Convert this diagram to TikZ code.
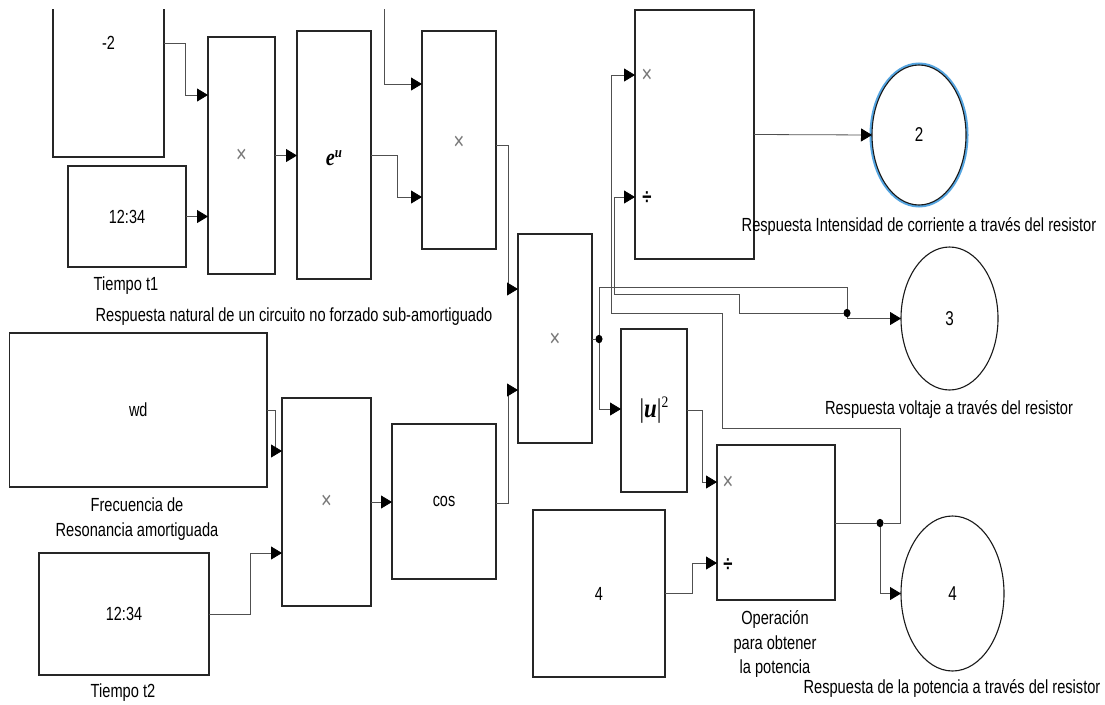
\documentclass[tikz,border=0pt]{standalone}
\usepackage{fontspec}
\setmainfont{Liberation Sans}[FakeStretch=0.77]
\newfontfamily\blkfont{Liberation Sans}[FakeStretch=0.76]
\newfontfamily\serifm{Liberation Serif}[FakeStretch=0.85]
\usetikzlibrary{arrows.meta,shadows,shapes.geometric}
\definecolor{wirec}{RGB}{80,80,80}
\definecolor{glow}{RGB}{85,165,225}
\definecolor{xgray}{RGB}{120,120,120}
\tikzset{
  blk/.style={draw=black!85, line width=1.2pt, fill=white, inner sep=0pt, outer sep=0pt,
    font=\blkfont\fontsize{19}{22}\selectfont,
    drop shadow={shadow xshift=1.3pt, shadow yshift=-1.3pt, opacity=0.4}},
  hiddenblk/.style={inner sep=0pt, outer sep=0pt, font=\blkfont\fontsize{19}{22}\selectfont},
  blkline/.style={draw=black!85, line width=1.2pt},
  port/.style={ellipse, draw=black!90, line width=1.1pt, fill=white, inner sep=0pt, outer sep=0pt,
    font=\blkfont\fontsize{20}{22}\selectfont},
  wire/.style={draw=wirec, line width=0.8pt},
  sig/.style={wire, -{Triangle[length=11pt,width=13pt,color=black]}},
  jdot/.style={ellipse, fill=black, draw=none, minimum width=7pt, minimum height=8.5pt, inner sep=0pt, outer sep=0pt},
  txt/.style={inner sep=0pt, align=center},
  xl/.style={text=xgray, inner sep=0pt, font=\blkfont\fontsize{24}{24}\selectfont},
  dl/.style={inner sep=0pt, font=\blkfont\fontsize{22}{22}\selectfont\bfseries},
}
\begin{document}
\begin{tikzpicture}[x=1pt, y=-1pt, font=\fontsize{19}{24.5}\selectfont]
\useasboundingbox (0,0) rectangle (1105,704);
\fill[white] (0,0) rectangle (1105,704);

% ---- blocks ----
\node[hiddenblk, minimum width=111pt, minimum height=228pt] (c2) at (108.5,43) {-2};
\draw[blkline] (c2.west |- 0,9) -- (c2.south west) -- (c2.south east) -- (c2.east |- 0,9);
\node[blk, minimum width=118pt, minimum height=101pt] (t1) at (127,216.5) {12:34};
\node[blk, minimum width=67pt, minimum height=237pt] (p1) at (241.5,155.5) {};
\node[xl] (p1x) at (p1.center) {×};
\node[blk, minimum width=74pt, minimum height=248pt] (eu) at (334,155) {};
\node[inner sep=0pt] (eut) at (334,158)
  {\serifm\fontsize{24}{24}\selectfont\bfseries\itshape e\raisebox{8pt}{\fontsize{15}{15}\selectfont u}};
\node[blk, minimum width=74pt, minimum height=218pt] (p2) at (459,140) {};
\node[xl] (p2x) at (459,143) {×};
\node[blk, minimum width=74pt, minimum height=209pt] (p3) at (555,338.5) {};
\node[xl] (p3x) at (555,340) {×};
\node[blk, minimum width=119pt, minimum height=249pt] (dv) at (694.5,134.5) {};
\node[xl] (dvx) at (647,76) {×};
\node[dl] (dvd) at (647,198) {÷};
\node[blk, minimum width=257.5pt, minimum height=154pt] (wd) at (138.25,410) {wd};
\node[blk, minimum width=170pt, minimum height=122pt] (t2) at (124,614) {12:34};
\node[blk, minimum width=89pt, minimum height=208pt] (p5) at (326.5,502) {};
\node[xl] (p5x) at (p5.center) {×};
\node[blk, minimum width=104pt, minimum height=155pt] (cs) at (444,501.5) {cos};
\node[blk, minimum width=66pt, minimum height=163pt] (sq) at (654,410.5) {};
\node[inner sep=0pt] (sqt) at (654,410)
  {\serifm\fontsize{27}{27}\selectfont |\textbf{\textit{u}}|\raisebox{10pt}{\fontsize{16}{16}\selectfont 2}};
\node[blk, minimum width=132pt, minimum height=167pt] (k4) at (599,593.5) {4};
\node[blk, minimum width=118pt, minimum height=155pt] (pw) at (776,522.5) {};
\node[xl] (pwx) at (728,483) {×};
\node[dl] (pwd) at (728,565) {÷};

% ---- outports ----
\node[port, minimum width=94pt, minimum height=140pt, preaction={draw=glow, line width=5pt}] (o2) at (919,135) {2};
\node[port, minimum width=97pt, minimum height=143pt] (o3) at (949.5,318.5) {3};
\node[port, minimum width=103pt, minimum height=155pt] (o4) at (952.5,593.5) {4};

% ---- labels ----
\node[txt] (lt1) at (126,286) {Tiempo t1};
\node[txt] (lnat) at (294,317) {Respuesta natural de un circuito no forzado sub-amortiguado};
\node[txt] (lwd) at (137,519) {Frecuencia de\\Resonancia amortiguada};
\node[txt] (lt2) at (123,693) {Tiempo t2};
\node[txt] (lo2) at (919,226) {Respuesta Intensidad de corriente a través del resistor};
\node[txt] (lo3) at (949,409) {Respuesta voltaje a través del resistor};
\node[txt] (lpw) at (775,644) {Operación\\para obtener\\la potencia};
\node[txt] (lo4) at (952,688) {Respuesta de la potencia a través del resistor};

% ---- junction dots ----
\node[jdot] (j1) at (599,339) {};
\node[jdot] (j2) at (847,313) {};
\node[jdot] (j3) at (880,523) {};
\coordinate (topin) at (384,9);

% ---- signals ----
\draw[sig] (c2.east) -| (185,95) -- (p1.west |- 0,95);
\draw[sig] (t1.east) -- (p1.west |- t1.east);
\draw[sig] (p1.east) -- (eu.west |- p1.east);
\draw[sig] (eu.east) -| (397,197) -- (p2.west |- 0,197);
\draw[sig] (topin) |- (p2.west |- 0,84);
\draw[sig] (p2.east |- 0,145) -| (508,289) -- (p3.west |- 0,289);
\draw[sig] (wd.east) -| (275,451) -- (p5.west |- 0,451);
\draw[sig] (t2.east) -| (250,553) -- (p5.west |- 0,553);
\draw[sig] (p5.east) -- (cs.west |- p5.east);
\draw[sig] (cs.east |- 0,503) -| (508,390) -- (p3.west |- 0,390);
\draw[wire] (p3.east |- j1) -- (j1);
\draw[sig] (j1) |- (sq.west |- 0,409);
\draw[wire] (j1) |- (847,287) -- (j2);
\draw[sig] (j2) |- (o3.west);
\draw[sig] (j2) -- (739,313) |- (614,294) |- (dv.west |- 0,197);
\draw[sig] (sq.east |- 0,410) -| (702,482) -- (pw.west |- 0,482);
\draw[sig] (k4.east) -| (692,563) -- (pw.west |- 0,563);
\draw[wire] (pw.east |- j3) -- (j3);
\draw[sig] (j3) |- (o4.west);
\draw[sig] (j3) -- (900,523) |- (722,428) |- (611,313) |- (dv.west |- 0,75);
\draw[sig] (dv.east) -- (o2.west);
\end{tikzpicture}
\end{document}
